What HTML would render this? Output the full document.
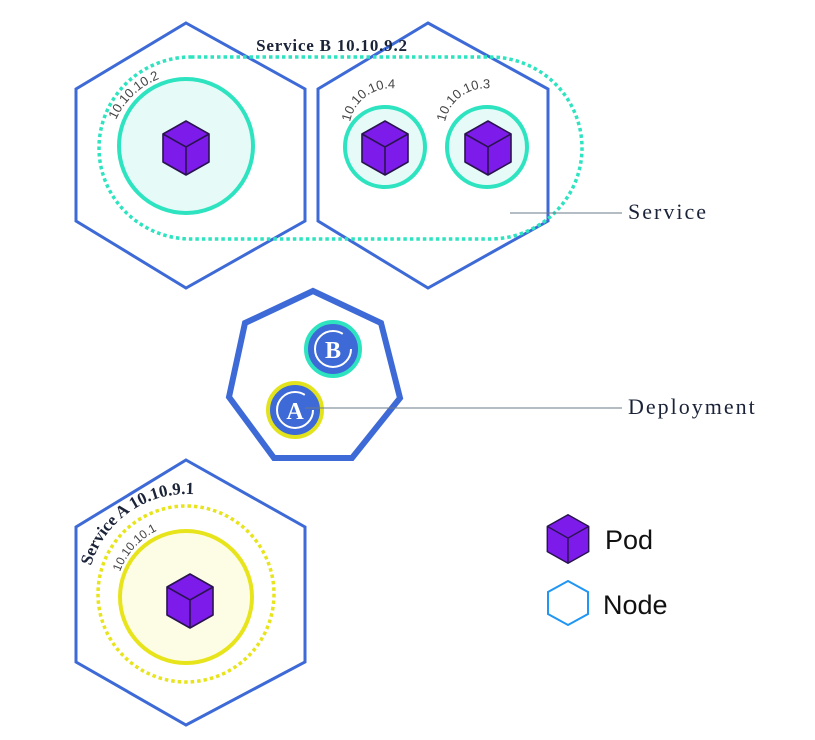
<!DOCTYPE html>
<html><head><meta charset="utf-8"><style>html,body{margin:0;padding:0;background:#fff}svg{display:block}</style></head>
<body>
<svg width="815" height="740" viewBox="0 0 815 740" xmlns="http://www.w3.org/2000/svg" font-family="'Liberation Sans',sans-serif">
<defs>
<g id="cube">
<polygon points="0,-27 23,-14 23,14 0,27 -23,14 -23,-14" fill="#7d1bea" stroke="#2a1450" stroke-width="1.6" stroke-linejoin="round"/>
<polyline points="-23,-14 0,-1 23,-14" fill="none" stroke="#2a1450" stroke-width="1.6"/>
<line x1="0" y1="-1" x2="0" y2="27" stroke="#2a1450" stroke-width="1.6"/>
</g>
<path id="arc1" d="M116,120 A78,78 0 0 1 180,74"/>
<path id="arc4" d="M350,122 A42,42 0 0 1 428,110"/>
<path id="arc3" d="M445,122 A42,42 0 0 1 523,110"/>
<path id="arcA" d="M91,566 A100,100 0 0 1 252,518"/>
<path id="arc101" d="M120,572 A74,74 0 0 1 178,524"/>
</defs>
<polygon points="186,23 305,89 305,221 186,288 76,221 76,89" fill="none" stroke="#3d6ad6" stroke-width="3"/>
<polygon points="428,23 548,89 548,221 428,288 318,221 318,89" fill="none" stroke="#3d6ad6" stroke-width="3"/>
<rect x="99" y="57" width="483" height="182" rx="92" fill="none" stroke="#2de3c0" stroke-width="3.5" stroke-dasharray="3.5,3"/>
<text x="332" y="51" font-family="'Liberation Serif',serif" font-weight="bold" font-size="17" letter-spacing="0.8" fill="#1b2338" text-anchor="middle">Service B 10.10.9.2</text>
<circle cx="186" cy="146" r="67" fill="#e6fbf8" stroke="#2de3c0" stroke-width="4"/>
<circle cx="385" cy="147" r="40" fill="#e6fbf8" stroke="#2de3c0" stroke-width="4"/>
<circle cx="487" cy="147" r="40" fill="#e6fbf8" stroke="#2de3c0" stroke-width="4"/>
<use href="#cube" x="186" y="148"/>
<use href="#cube" x="385" y="148"/>
<use href="#cube" x="488" y="148"/>
<text font-size="13" fill="#444"><textPath href="#arc1">10.10.10.2</textPath></text>
<text font-size="13" fill="#444"><textPath href="#arc4">10.10.10.4</textPath></text>
<text font-size="13" fill="#444"><textPath href="#arc3">10.10.10.3</textPath></text>
<line x1="510" y1="213" x2="622" y2="213" stroke="#6a7a8a" stroke-width="1"/>
<text x="628" y="219" font-family="'Liberation Serif',serif" font-size="22" letter-spacing="2" fill="#1b2338">Service</text>
<polygon points="313,291 381,323 400,398 352,458 274,458 229,397 245,323" fill="none" stroke="#3d6ad6" stroke-width="6"/>
<circle cx="333" cy="349" r="27" fill="#3d6ad6" stroke="#2de3c0" stroke-width="4"/>
<circle cx="333" cy="349" r="18" fill="none" stroke="#fff" stroke-width="2" stroke-dasharray="95,18"/>
<text x="333" y="358" font-family="'Liberation Serif',serif" font-weight="bold" font-size="24" fill="#fff" text-anchor="middle">B</text>
<circle cx="295" cy="410" r="27" fill="#3d6ad6" stroke="#e3e31d" stroke-width="4"/>
<circle cx="295" cy="410" r="18" fill="none" stroke="#fff" stroke-width="2" stroke-dasharray="95,18"/>
<text x="295" y="419" font-family="'Liberation Serif',serif" font-weight="bold" font-size="24" fill="#fff" text-anchor="middle">A</text>
<line x1="305" y1="408" x2="622" y2="408" stroke="#6a7a8a" stroke-width="1"/>
<text x="628" y="414" font-family="'Liberation Serif',serif" font-size="22" letter-spacing="2" fill="#1b2338">Deployment</text>
<polygon points="186,460 305,527 305,662 186,725 76,662 76,527" fill="none" stroke="#3d6ad6" stroke-width="3"/>
<circle cx="186" cy="594" r="88" fill="none" stroke="#e8e41c" stroke-width="3.5" stroke-dasharray="3.5,3"/>
<circle cx="186" cy="597" r="66" fill="#fdfde6" stroke="#e8e41c" stroke-width="4"/>
<use href="#cube" x="190" y="601"/>
<text font-family="'Liberation Serif',serif" font-weight="bold" font-size="17" fill="#1b2338"><textPath href="#arcA">Service A  10.10.9.1</textPath></text>
<text font-size="12" fill="#444"><textPath href="#arc101">10.10.10.1</textPath></text>
<g transform="translate(568,539) scale(0.9)"><use href="#cube"/></g>
<text x="605" y="549" font-size="27" fill="#111">Pod</text>
<polygon points="568,581 588,592 588,614 568,625 548,614 548,592" fill="none" stroke="#2196f3" stroke-width="2"/>
<text x="603" y="614" font-size="27" fill="#111">Node</text>
</svg>
</body></html>
